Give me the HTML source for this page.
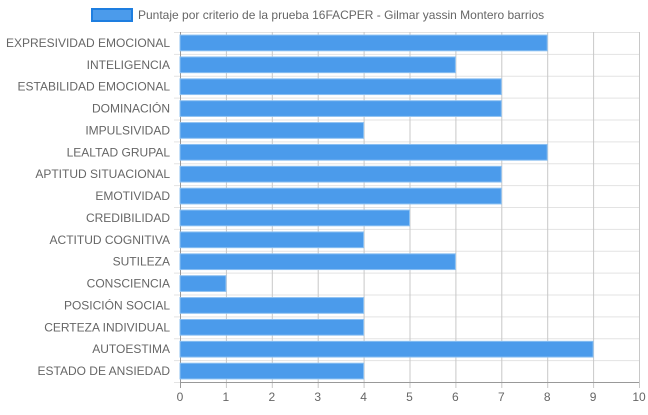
<!DOCTYPE html>
<html><head><meta charset="utf-8"><style>
body{margin:0;background:#fff;width:648px;height:410px;overflow:hidden;font-family:"Liberation Sans",sans-serif}
</style></head><body>
<svg id="chart" width="648" height="410" xmlns="http://www.w3.org/2000/svg" font-family="Liberation Sans, sans-serif">
<g>
<rect x="92" y="9" width="40" height="12" fill="#4b9beb" stroke="#1e7ee0" stroke-width="2"/>
<text x="138" y="19" font-size="12" fill="#666">Puntaje por criterio de la prueba 16FACPER - Gilmar yassin Montero barrios</text>
</g>
<g id="grid"></g><g id="bars"></g><g id="labels"></g>
</svg>
<script>
const categories=["EXPRESIVIDAD EMOCIONAL","INTELIGENCIA","ESTABILIDAD EMOCIONAL","DOMINACIÓN","IMPULSIVIDAD","LEALTAD GRUPAL","APTITUD SITUACIONAL","EMOTIVIDAD","CREDIBILIDAD","ACTITUD COGNITIVA","SUTILEZA","CONSCIENCIA","POSICIÓN SOCIAL","CERTEZA INDIVIDUAL","AUTOESTIMA","ESTADO DE ANSIEDAD"];
const values=[8,6,7,7,4,8,7,7,5,4,6,1,4,4,9,4];
const xTicks=[0,1,2,3,4,5,6,7,8,9,10];
const NS="http://www.w3.org/2000/svg";
const L=180,R=639,T=32,B=382,xMax=10;
const xs=v=>L+(R-L)*v/xMax;
const band=(B-T)/categories.length;
const ys=i=>T+band*i;
function mk(tag,attrs,parent){const e=document.createElementNS(NS,tag);for(const k in attrs)e.setAttribute(k,attrs[k]);document.getElementById(parent).appendChild(e);return e;}
for(let i=0;i<=categories.length;i++){
  const l=mk('line',{x1:L-6,x2:R,y1:ys(i)+0.5,y2:ys(i)+0.5,stroke:'#e3e3e3'},'grid');
  
  
}
xTicks.forEach(t=>{
  const l=mk('line',{x1:xs(t)+0.5,x2:xs(t)+0.5,y1:T,y2:B+6,stroke:t===0?'#999':'#c8c8c8'},'grid');
  
  
  const tx=mk('text',{x:xs(t),y:B+19,'font-size':12,fill:'#666','text-anchor':'middle'},'labels');
  tx.textContent=t;
  
  
});
const bl=mk('line',{x1:L,x2:R,y1:B+0.5,y2:B+0.5,stroke:'#999'},'grid');


categories.forEach((c,i)=>{
  const bh=band*0.72;
  const r=mk('rect',{x:L,y:ys(i)+(band-bh)/2,width:xs(values[i])-L,height:bh,fill:'#4b9beb',stroke:'#8cc1f2','stroke-width':1},'bars');
  
  
  const tx=mk('text',{x:L-10,y:ys(i)+band/2+4,'font-size':12,fill:'#666','text-anchor':'end'},'labels');
  tx.textContent=c;
  
  
});
</script>
</body></html>
